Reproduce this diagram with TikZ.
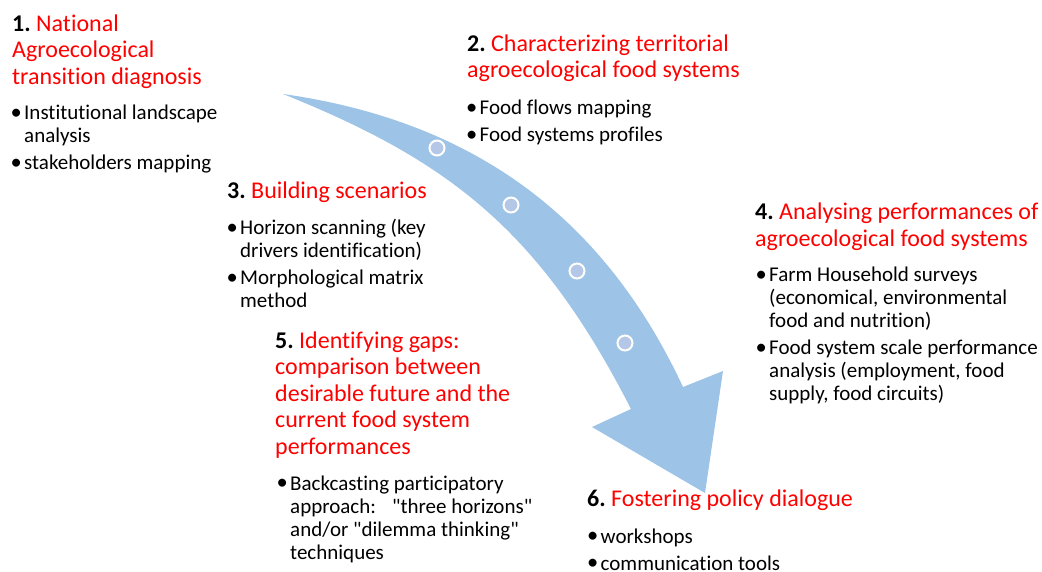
\documentclass[tikz,border=0pt]{standalone}
\usepackage{fontspec}
\setmainfont{Carlito}[Ligatures={TeXOff,NoCommon}]
\usepackage{tikz}
\usetikzlibrary{positioning}
\usepackage{xcolor}
\definecolor{flowblue}{HTML}{9DC3E6}
\definecolor{dotblue}{HTML}{B4C7E7}
\definecolor{headred}{HTML}{FF0000}
% one heading / bullet block, first baseline on the node's base
\newcommand{\headlines}[1]{\begin{tabular}[t]{@{}l@{}}#1\end{tabular}}
\newcommand{\itemlines}[1]{\begin{tabular}[t]{@{}l@{}l@{}}#1\end{tabular}}
\newcommand{\bul}{\makebox[12.5pt][l]{\hspace*{-1pt}\raisebox{0.4pt}{\fontsize{22.5}{22.5}\selectfont\textbullet}}}
\newcommand{\stepnum}[1]{\textcolor{black}{\textbf{#1}}~}
\tikzset{
  heading/.style  = {anchor=base west, inner sep=0pt, text=headred,
                     font=\fontsize{24}{26.4}\selectfont},
  items/.style    = {anchor=base west, inner sep=0pt,
                     font=\fontsize{21}{23}\selectfont},
  waypoint/.style = {circle, fill=dotblue, draw=white, line width=2pt,
                     minimum size=15pt, inner sep=0pt},
}

\begin{document}
\begin{tikzpicture}[x=1pt, y=-1pt]
\useasboundingbox (0,0) rectangle (1042,572);
% ---------- curved flow arrow ----------
\fill[flowblue] (283,94) .. controls (481,122) and (607,224) .. (683,387)
  -- (723,371) -- (705,493) -- (592,427) -- (631,409)
  .. controls (540,231) and (450,161) .. cycle;
\foreach \x/\y [count=\i] in {437/148, 511/205, 577/271, 625/343}
  \node[waypoint] (wp\i) at (\x,\y) {};
% ---------- 1. diagnosis ----------
\node[heading] (diaghead) at (12,31.5) {\headlines{\stepnum{1.}National\\
  Agroecological\\ transition diagnosis}};
\node[items] (diagitems) at (11.5,120) {\itemlines{\bul & Institutional landscape\\
  & analysis\\[4pt] \bul & stakeholders mapping}};
% ---------- 2. territorial food systems ----------
\node[heading] (terrhead) at (467,51.5) {\headlines{\stepnum{2.}Characterizing territorial\\
  agroecological food systems}};
\node[items] (territems) at (467,115) {\itemlines{\bul & Food flows mapping\\[4pt]
  \bul & Food systems profiles}};
% ---------- 3. scenarios ----------
\node[heading] (scenhead) at (227,199) {\headlines{\stepnum{3.}Building scenarios}};
\node[items] (scenitems) at (227.5,235) {\itemlines{\bul & Horizon scanning (key\\
  & drivers identification)\\[4pt] \bul & Morphological matrix\\ & method}};
% ---------- 4. performances ----------
\node[heading] (perfhead) at (755,220) {\headlines{\stepnum{4.}Analysing performances of\\
  agroecological food systems}};
\node[items] (perfitems) at (756.5,281.5) {\itemlines{\bul & Farm Household surveys\\
  & (economical, environmental\\ & food and nutrition)\\[4pt]
  \bul & Food system scale performance\\ & analysis (employment, food\\
  & supply, food circuits)}};
% ---------- 5. gaps ----------
\node[heading] (gaphead) at (275,348.5) {\headlines{\stepnum{5.}Identifying gaps:\\
  comparison between\\ desirable future and the\\ current food system\\ performances}};
\node[items] (gapitems) at (277.5,490) {\itemlines{\bul & Backcasting participatory\\
  & \makebox[242pt][l]{approach:\hfill"three horizons"}\\ & and/or "dilemma thinking"\\
  & techniques}};
% ---------- 6. policy dialogue ----------
\node[heading] (polhead) at (587,506.5) {\headlines{\stepnum{6.}Fostering policy dialogue}};
\node[items] (politems) at (588,543) {\itemlines{\bul & workshops\\[4pt]
  \bul & communication tools}};
\end{tikzpicture}
\end{document}
